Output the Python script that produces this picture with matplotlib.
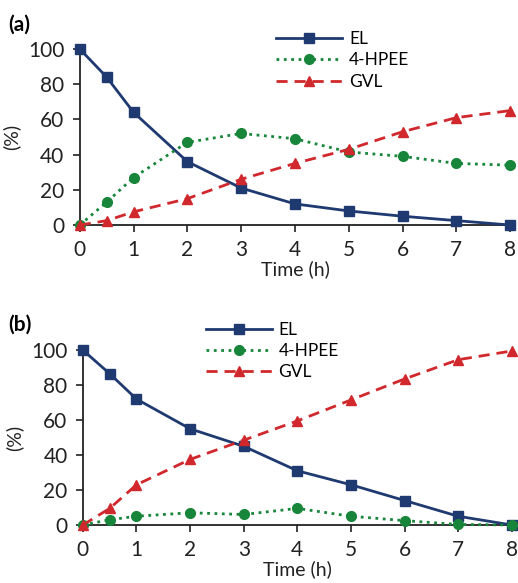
import matplotlib.pyplot as plt
from matplotlib.lines import Line2D

plt.rcParams['font.family'] = ['Lato', 'DejaVu Sans']

time_h = [0, 0.5, 1, 2, 3, 4, 5, 6, 7, 8]

# panel (a)
el_a = [100, 84, 64, 36, 21, 12, 8, 5, 2.5, 0]
hpee_a = [0, 13, 27, 47, 52, 49, 41.5, 39, 35, 34]
gvl_a = [0, 2.5, 7.5, 15, 26, 35, 43, 53, 61, 65]

# panel (b)
el_b = [100, 86.5, 72, 55, 45, 31, 23, 14, 5, 0]
hpee_b = [0, 3, 5, 7, 6, 9.5, 5, 2.5, 0.3, 0]
gvl_b = [0, 9.5, 23, 37.5, 48.5, 59.5, 71.5, 83.5, 94.5, 99.5]

names = ['EL', '4-HPEE', 'GVL']
colors = ['#1f3a70', '#17853a', '#d0282c']
styles = ['-', ':', (0, (4, 2.5))]
markers = ['s', 'o', '^']

fig = plt.figure(figsize=(5.18, 5.83), dpi=100)
ax_a = fig.add_axes([0.154, 0.614, 0.831, 0.302])
ax_b = fig.add_axes([0.160, 0.0995, 0.828, 0.300])


def draw(ax, series, legend_pos):
    for vals, name, c, ls, m in zip(series, names, colors, styles, markers):
        ax.plot(time_h, vals, color=c, linestyle=ls, marker=m, markersize=7,
                linewidth=2, label=name, clip_on=False, zorder=3)
    ax.set_xlim(0, 8)
    ax.set_ylim(0, 100)
    ax.set_xticks(range(0, 9))
    ax.set_yticks(range(0, 101, 20))
    for s in ['top', 'right']:
        ax.spines[s].set_visible(False)
    for s in ['left', 'bottom']:
        ax.spines[s].set_linewidth(1.3)
        ax.spines[s].set_color('#222222')
    ax.tick_params(direction='out', length=5, width=1.2, labelsize=15,
                   colors='#222222', pad=6)
    ax.set_xlabel('Time (h)', fontsize=14, labelpad=0, color='#222222')
    ax.set_ylabel('(%)', fontsize=14, labelpad=6, color='#222222')
    handles = [Line2D([], [], color=c, linestyle=ls, marker=m, markersize=7,
                      linewidth=2) for c, ls, m in zip(colors, styles, markers)]
    ax.legend(handles, names, loc='upper left', bbox_to_anchor=legend_pos,
              frameon=False, fontsize=12.5, handlelength=3.8, handletextpad=0.4,
              labelspacing=0.3, borderaxespad=0)


draw(ax_a, [el_a, hpee_a, gvl_a], (0.44, 1.14))
draw(ax_b, [el_b, hpee_b, gvl_b], (0.27, 1.2))

fig.text(0.015, 0.957, '(a)', fontsize=15, fontweight='bold', va='center')
fig.text(0.015, 0.443, '(b)', fontsize=15, fontweight='bold', va='center')

fig.savefig('out.png', dpi=100)
